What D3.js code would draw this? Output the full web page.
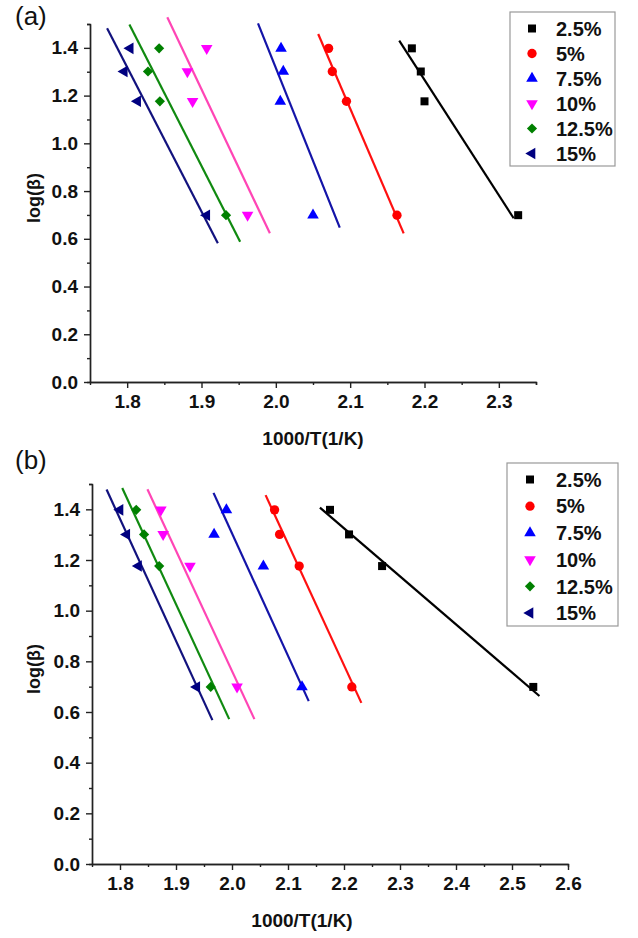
<!DOCTYPE html>
<html>
<head>
<meta charset="utf-8">
<script src="https://cdn.jsdelivr.net/npm/d3@7"></script>
<style>
  body { margin: 0; background: #fff; }
  svg { display: block; font-family: "Liberation Sans", Arial, sans-serif; }
  .axis path, .axis line { stroke: #222; stroke-width: 1.4; }
  .axis text { font-size: 19px; font-weight: bold; fill: #111; }
</style>
</head>
<body>
<script>
// heating rates log(beta) for beta = 25, 20, 15, 5 K/min
const logBeta = [1.398, 1.301, 1.176, 0.699];
const seriesNames = ["2.5%", "5%", "7.5%", "10%", "12.5%", "15%"];

// 1000/T, same order as logBeta
const xValuesA = [
    [2.183, 2.195, 2.200, 2.326],
    [2.071, 2.076, 2.095, 2.163],
    [2.007, 2.010, 2.006, 2.050],
    [1.907, 1.881, 1.888, 1.962],
    [1.843, 1.828, 1.844, 1.933],
    [1.804, 1.796, 1.814, 1.907]
];
// fitted lines of panel (a): [x1, y1, x2, y2]
const fitLinesA = [
    [2.166, 1.430, 2.320, 0.686],
    [2.057, 1.458, 2.172, 0.623],
    [1.976, 1.503, 2.086, 0.647],
    [1.854, 1.528, 1.992, 0.623],
    [1.803, 1.498, 1.952, 0.588],
    [1.773, 1.482, 1.922, 0.581]
];

// 1000/T
const xValuesB = [
    [2.175, 2.209, 2.268, 2.538],
    [2.076, 2.085, 2.120, 2.214],
    [1.990, 1.968, 2.056, 2.125],
    [1.873, 1.877, 1.925, 2.009],
    [1.829, 1.843, 1.870, 1.962],
    [1.800, 1.812, 1.833, 1.937]
];
const fitLinesB = [
    [2.157, 1.407, 2.549, 0.663],
    [2.060, 1.456, 2.231, 0.636],
    [1.967, 1.465, 2.137, 0.643],
    [1.849, 1.479, 2.040, 0.572],
    [1.804, 1.484, 1.995, 0.572],
    [1.776, 1.478, 1.965, 0.568]
];

const xTicksA = [1.8, 1.9, 2.0, 2.1, 2.2, 2.3];
const xTicksB = [1.8, 1.9, 2.0, 2.1, 2.2, 2.3, 2.4, 2.5, 2.6];
const yTicks = [0.0, 0.2, 0.4, 0.6, 0.8, 1.0, 1.2, 1.4];

const MARKER_COLORS = ["#000000", "#ff0000", "#0000ff", "#ff00ff", "#008000", "#000080"];
const LINE_COLORS = ["#000000", "#ff1010", "#1414a8", "#ff45b5", "#108a10", "#12127e"];

// symbol type + rotation for each series
const MARKERS = [
    { type: d3.symbolSquare, size: 64, rotate: 0 },
    { type: d3.symbolCircle, size: 68, rotate: 0 },
    { type: d3.symbolTriangle, size: 58, rotate: 0 },
    { type: d3.symbolTriangle, size: 58, rotate: 180 },
    { type: d3.symbolSquare, size: 52, rotate: 45 },
    { type: d3.symbolTriangle, size: 58, rotate: -90 }
];

const svg = d3.select("body")
    .append("svg")
    .attr("width", 638)
    .attr("height", 938);

const drawMarker = (el, i, x, y) => el
    .append("path")
    .attr("d", d3.symbol().type(MARKERS[i].type).size(MARKERS[i].size)())
    .attr("fill", MARKER_COLORS[i])
    .attr("transform", `translate(${ x },${ y }) rotate(${ MARKERS[i].rotate })`);

function drawPanel({ xValues, fitLines, xDomain, xRange, yRange, xTicks, xMinor, label, labelY, titleX, legend }) {
    const g = svg.append("g");
    const x = d3.scaleLinear().domain(xDomain).range(xRange);
    const y = d3.scaleLinear().domain([0, 1.5]).range(yRange);

    const fmt = d3.format(".1f");

    // minor ticks first, then major
    g.append("g").attr("class", "axis")
        .attr("transform", `translate(0,${ yRange[0] })`)
        .call(d3.axisBottom(x).tickValues(xMinor).tickSize(3).tickFormat(""));
    g.append("g").attr("class", "axis")
        .attr("transform", `translate(0,${ yRange[0] })`)
        .call(d3.axisBottom(x).tickValues(xTicks).tickSize(6).tickPadding(7).tickSizeOuter(0).tickFormat(fmt));

    g.append("g").attr("class", "axis")
        .attr("transform", `translate(${ xRange[0] },0)`)
        .call(d3.axisLeft(y).tickValues(d3.range(0.1, 1.51, 0.2)).tickSize(3).tickFormat(""));
    g.append("g").attr("class", "axis")
        .attr("transform", `translate(${ xRange[0] },0)`)
        .call(d3.axisLeft(y).tickValues(yTicks).tickSize(6).tickPadding(6).tickSizeOuter(0).tickFormat(fmt));

    // fit lines
    g.selectAll(".fit")
        .data(fitLines)
        .join("line")
        .attr("class", "fit")
        .attr("x1", d => x(d[0]))
        .attr("y1", d => y(d[1]))
        .attr("x2", d => x(d[2]))
        .attr("y2", d => y(d[3]))
        .attr("stroke", (d, i) => LINE_COLORS[i])
        .attr("stroke-width", 2.2);

    // points
    xValues.forEach((row, i) => {
        row.forEach((v, j) => drawMarker(g, i, x(v), y(logBeta[j])));
    });

    // axis titles
    g.append("text")
        .attr("x", titleX)
        .attr("y", yRange[0] + 63)
        .attr("text-anchor", "middle")
        .attr("font-size", 19)
        .attr("font-weight", "bold")
        .attr("fill", "#111")
        .text("1000/T(1/K)");

    g.append("text")
        .attr("transform", `translate(40,${ (yRange[0] + yRange[1]) / 2 - 5 }) rotate(-90)`)
        .attr("text-anchor", "middle")
        .attr("font-size", 18)
        .attr("font-weight", "bold")
        .attr("fill", "#111")
        .text("log(β)");

    g.append("text")
        .attr("x", 15)
        .attr("y", labelY)
        .attr("font-size", 26)
        .attr("fill", "#111")
        .text(label);

    // legend
    const lg = g.append("g");
    lg.append("rect")
        .attr("x", legend.left)
        .attr("y", legend.top)
        .attr("width", legend.right - legend.left)
        .attr("height", legend.bottom - legend.top)
        .attr("fill", "#fff")
        .attr("stroke", "#999")
        .attr("stroke-width", 1.2);

    seriesNames.forEach((name, i) => {
        const cy = legend.firstRow + i * legend.step;
        drawMarker(lg, i, legend.symbolX, cy);
        lg.append("text")
            .attr("x", legend.textX)
            .attr("y", cy)
            .attr("dy", "0.36em")
            .attr("font-size", 20)
            .attr("font-weight", "bold")
            .attr("fill", "#111")
            .text(name);
    });
}

drawPanel({
    xValues: xValuesA,
    fitLines: fitLinesA,
    xDomain: [1.75, 2.35],
    xRange: [90, 536],
    yRange: [382, 24],
    xTicks: xTicksA,
    xMinor: d3.range(1.85, 2.36, 0.1),
    label: "(a)",
    labelY: 25,
    titleX: 313,
    legend: { left: 510, right: 615, top: 12, bottom: 166, symbolX: 532, textX: 556, firstRow: 28.5, step: 25 }
});

drawPanel({
    xValues: xValuesB,
    fitLines: fitLinesB,
    xDomain: [1.75, 2.6],
    xRange: [92, 568],
    yRange: [864, 484],
    xTicks: xTicksB,
    xMinor: d3.range(1.85, 2.56, 0.1),
    label: "(b)",
    labelY: 469,
    titleX: 302,
    legend: { left: 507, right: 618, top: 463, bottom: 626, symbolX: 530, textX: 556, firstRow: 479.5, step: 26.7 }
});
</script>
</body>
</html>
